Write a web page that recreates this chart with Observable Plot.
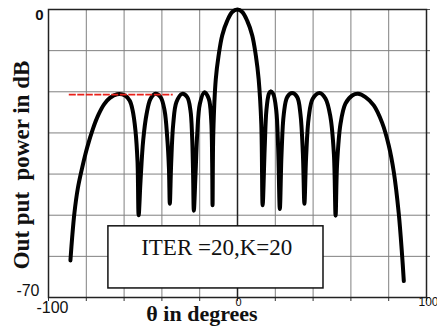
<!DOCTYPE html>
<html>
<head>
<meta charset="utf-8">
<script src="https://cdn.jsdelivr.net/npm/d3@7"></script>
<script src="https://cdn.jsdelivr.net/npm/@observablehq/plot@0.6"></script>
<style>
  html, body { margin: 0; padding: 0; background: #fff; }
  svg text { white-space: pre; }
</style>
</head>
<body>
<div id="chart"></div>
<script>
// Beam pattern: angle (degrees) and output power (dB)
const theta = [
  -88.4, -87.5, -86.3, -84.5, -82.2, -79.5, -76.5, -73.5, -70.5, -67.5, -63.7, -59.5, -57.0, -55.5, -54.0, -52.9, -52.3,
  -51.3, -49.9, -48.1, -46.0, -43.4, -40.7, -38.6, -37.2, -36.3, -35.8,
  -35.1, -34.0, -32.3, -29.3, -26.6, -24.9, -24.0, -23.5, -23.1,
  -22.2, -21.3, -19.9, -17.5, -15.2, -13.9, -13.4, -13.2,
  -12.8, -11.5, -10.0, -8.1, -5.4, -2.8, 0, 2.5, 5.1, 7.8, 9.7, 11.2, 12.6, 13.3,
  14.4, 15.3, 16.6, 17.5, 18.9, 20.5, 21.5, 22.4,
  23.3, 24.5, 26.3, 28.9, 31.6, 33.3, 34.6, 35.4,
  36.3, 37.7, 39.8, 43.4, 46.6, 49.2, 51.0, 51.9,
  52.7, 54.5, 57.1, 60.7, 63.8, 67.7, 72.1, 76.5, 80.0, 82.7, 85.3, 87.1, 88.0
];
const powerDb = [
  -61, -55.5, -49.5, -43.5, -38.5, -33.5, -29, -25.5, -23, -21.5, -20.6, -20.9, -22.2, -24.5, -29.4, -37, -50,
  -41.6, -31.8, -25.4, -21.7, -20.5, -21.3, -24.5, -31.0, -38.3, -47.2,
  -37.5, -27.8, -22.5, -20.5, -21.3, -24.5, -31.0, -39.9, -48.9,
  -39.9, -30.2, -22.9, -20.1, -21.7, -27.0, -37.5, -47.6,
  -30, -17, -11.2, -6.3, -2.7, -0.6, 0, -0.6, -2.7, -6.3, -11.2, -17, -28, -47.6,
  -33.5, -24.5, -20.5, -19.9, -20.5, -24.5, -33.5, -48.5,
  -35.1, -25.4, -21.3, -20.3, -21.3, -25.4, -35.1, -47.2,
  -35.9, -26.2, -21.7, -20.3, -21.7, -26.2, -35.1, -50.1,
  -37.5, -27.8, -22.9, -20.9, -20.5, -21.3, -23.3, -27.5, -33, -39.5, -49.5, -59.8, -66
];

// Grid and tick values
const xGrid = [-100, -80, -60, -40, -20, 0, 20, 40, 60, 80, 100];
const yGrid = [-70, -60, -50, -40, -30, -20, -10, 0];

// Reference side-lobe level line (red)
const sidelobeLevel = [-20.7];
const sidelobeSpan = [-89, -34];

// Annotation
const annotationText = ["ITER =20,K=20"];
const annotationBox = [{x1: -68.3, x2: 45.5, y1: -52.7, y2: -67.8}];

const data = theta.map((t, i) => ({theta: t, db: powerDb[i]}));

const serif = "'Liberation Serif', 'Times New Roman', serif";
const sans = "'Liberation Sans', Arial, sans-serif";

const chart = Plot.plot({
  width: 437,
  height: 327,
  marginLeft: 48,
  marginRight: 11,
  marginTop: 9,
  marginBottom: 30,
  style: {background: "#fff", overflow: "visible"},
  x: {domain: [-100, 100], axis: null},
  y: {domain: [-70, 0], axis: null},
  marks: [
    Plot.gridX(xGrid, {stroke: "#808080", strokeOpacity: 1, strokeWidth: 1}),
    Plot.gridY(yGrid, {stroke: "#808080", strokeOpacity: 1, strokeWidth: 1}),
    Plot.ruleX([0], {stroke: "#222", strokeWidth: 1.5}),
    Plot.axisX(xGrid, {tickSize: 4, tickFormat: () => "", stroke: "#333", label: null}),
    Plot.axisY(yGrid, {anchor: "right", tickSize: 3, tickFormat: () => "", stroke: "#555", label: null}),
    Plot.frame({stroke: "#222", strokeWidth: 1.5}),
    Plot.rect(annotationBox, {x1: "x1", x2: "x2", y1: "y1", y2: "y2", fill: "#fff", stroke: "#111", strokeWidth: 1.5}),
    Plot.text(annotationText, {x: -11, y: -59.6, text: d => d, lineAnchor: "bottom", fontFamily: serif, fontSize: 23, fill: "#111"}),
    Plot.line(data, {x: "theta", y: "db", stroke: "#000", strokeWidth: 4, curve: "catmull-rom", strokeLinejoin: "round", strokeLinecap: "round"}),
    Plot.ruleY(sidelobeLevel, {x1: sidelobeSpan[0], x2: sidelobeSpan[1], stroke: "#e8201a", strokeWidth: 1.6, strokeDasharray: "7,1.5"}),
    // tick labels
    Plot.text([-100], {x: d => d, text: d => String(d), frameAnchor: "bottom", dy: 15, dx: 4, fontFamily: sans, fontSize: 16, fill: "#111"}),
    Plot.text([0], {x: d => d, text: d => String(d), frameAnchor: "bottom", dy: 8, dx: 1, fontFamily: sans, fontSize: 11, fill: "#111"}),
    Plot.text([100], {x: d => d, text: d => String(d), frameAnchor: "bottom", dy: 8, dx: 2, fontFamily: sans, fontSize: 12, fill: "#111"}),
    Plot.text([0], {y: d => d, text: d => String(d), frameAnchor: "left", dx: -5, dy: 6, textAnchor: "end", fontFamily: sans, fontWeight: "bold", fontSize: 15, fill: "#111"}),
    Plot.text([-70], {y: d => d, text: d => String(d), frameAnchor: "left", dx: -9, dy: -7, textAnchor: "end", fontFamily: sans, fontSize: 16, fill: "#111"}),
    // axis titles
    Plot.text(["θ in degrees"], {text: d => d, frameAnchor: "bottom", dx: -35.5, dy: 23, lineAnchor: "bottom", textAnchor: "middle", fontFamily: serif, fontWeight: "bold", fontSize: 22, fill: "#111"}),
    Plot.text(["Out put  power in dB"], {text: d => d, frameAnchor: "left", dx: -27, dy: 11.5, rotate: -90, lineAnchor: "middle", textAnchor: "middle", fontFamily: serif, fontWeight: "bold", fontSize: 23, fill: "#111"})
  ]
});

document.getElementById("chart").appendChild(chart);
</script>
</body>
</html>
